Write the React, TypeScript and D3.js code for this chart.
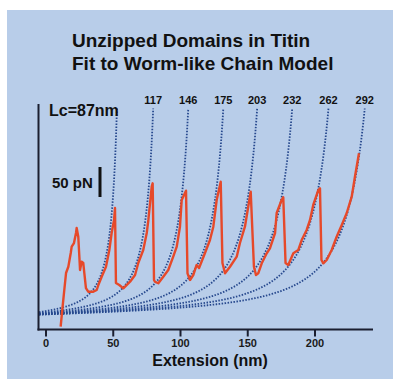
import React from "react";
import * as d3 from "d3";

const titleLines = ["Unzipped Domains in Titin", "Fit to Worm-like Chain Model"];
const xTicks = [0, 50, 100, 150, 200];
const contourLengths = [87, 117, 146, 175, 203, 232, 262, 292];
const xLabel = "Extension (nm)";
const scaleBarLabel = "50 pN";
const scaleBarForce = 50;

// measured trace: extension (nm), force (pN)
const traceExt = [
  10.9, 12.1, 13.6, 14.9, 16.6, 18.4, 19.1, 20.8, 22.3, 22.8, 24.0, 24.8, 25.3, 26.5, 27.7, 28.5, 29.7,
  31.4, 35.2, 37.7, 38.9, 41.4, 44.6, 47.1, 48.8, 50.6, 51.3, 52.0, 54.5, 57.5, 62.5, 66.2, 68.6, 72.3,
  74.9, 76.1, 78.6, 79.3, 80.3, 81.0, 83.5, 87.2, 90.9, 94.6, 97.2, 99.6, 100.9, 104.1, 105.2, 107.1,
  109.5, 112.0, 113.8, 118.2, 121.9, 124.4, 126.9, 129.9, 131.2, 133.1, 136.8, 141.8, 144.2, 147.9,
  152.2, 154.6, 156.1, 157.8, 160.4, 164.1, 166.5, 170.3, 171.5, 175.2, 176.4, 178.1, 180.1, 183.9,
  187.6, 190.1, 193.8, 196.3, 198.7, 202.5, 203.7, 204.8, 206.2, 208.7, 212.4, 216.1, 219.9, 223.6,
  227.3, 229.7, 232.7,
];
const traceForce = [
  -18.7, 9.2, 42.5, 70.8, 81.3, 104.2, 114.7, 120.8, 137.5, 145.8, 131.3, 98, 75.8, 89.7, 87.5, 70.8, 45.8,
  39.7, 39.7, 42.5, 50.8, 64.7, 81.3, 109.2, 137.5, 159.2, 179.2, 54.2, 50.8, 45.3, 56.3, 67.5, 87.5, 109.2,
  137.5, 159.2, 214.7, 220.3, 59.2, 56.3, 53.7, 64.7, 75.8, 98, 114.7, 148, 192.5, 208, 70.3, 59.2,
  67.5, 84.2, 79.2, 104.2, 125.8, 148, 192.5, 223, 87.5, 70.3, 81.3, 98, 120.8, 148,
  206.3, 81.3, 67.5, 70.3, 87, 103.7, 112, 137.5, 170.8, 192.5, 197, 87.5, 84.2, 103.7,
  109.2, 125.8, 142.5, 159.2, 184.2, 209.2, 212, 92.5, 87, 92.5, 109.2, 131.3, 150.8, 170.8,
  198, 231.3, 270.3,
];

// WLC model parameters (fit)
const wlcForceScale = 13.77; // kT/p, pN
const wlcOffset = 25.46; // nm
const wlcMaxForce = 345; // pN, where curves are cut

const W = 393;
const H = 379;

function wlc(f: number) {
  return wlcForceScale * (1 / (4 * (1 - f) * (1 - f)) - 0.25 + f);
}
function solveF(F: number) {
  let lo = 0, hi = 0.9999;
  for (let i = 0; i < 60; i++) {
    const m = (lo + hi) / 2;
    if (wlc(m) < F) lo = m; else hi = m;
  }
  return lo;
}

export default function App() {
  const x = d3.scaleLinear().domain([0, 200]).range([46, 315]);
  const y = d3.scaleLinear().domain([0, 50]).range([315.5, 285.5]);
  const axisY = 329.5;
  const axisX = 38.5;
  const xStartExt = x.invert(39);

  const line = d3
    .line<[number, number]>()
    .x((d) => x(d[0]))
    .y((d) => y(d[1]));

  const trace: [number, number][] = traceExt.map((e, i) => [e, traceForce[i]]);

  const curves = contourLengths.map((Lc) => {
    const fTop = solveF(wlcMaxForce);
    const fStart = (xStartExt + wlcOffset) / Lc;
    const pts: [number, number][] = [];
    const n = 400;
    for (let i = 0; i <= n; i++) {
      const f = fStart + ((fTop - fStart) * i) / n;
      pts.push([f * Lc - wlcOffset, wlc(f)]);
    }
    return { Lc, pts, top: pts[pts.length - 1] };
  });

  const font = "'Liberation Sans', Arial, Helvetica, sans-serif";
  const dark = "#1b1f30";

  return (
    <svg
      width={W}
      height={H}
      style={{ position: "absolute", left: 0, top: 0, background: "#fff" }}
      fontFamily={font}
    >
      <rect x={7} y={10} width={W - 7} height={H - 10} fill="#b8cde9" />
      {titleLines.map((t, i) => (
        <text
          key={t}
          x={72}
          y={47 + i * 22.5}
          fontSize={19}
          fontWeight="bold"
          fill="#111"
        >
          {t}
        </text>
      ))}

      {/* WLC fits */}
      {curves.map((c) => (
        <path
          key={c.Lc}
          d={line(c.pts) || ""}
          fill="none"
          stroke="#27498e"
          strokeWidth={1.8}
          strokeDasharray="1.5 1.5"
        />
      ))}

      {/* trace */}
      <path
        d={line(trace) || ""}
        fill="none"
        stroke="#e6492a"
        strokeWidth={2.4}
        strokeLinejoin="round"
      />

      {/* axes */}
      <line x1={axisX} x2={axisX} y1={104} y2={axisY + 1} stroke={dark} strokeWidth={2} />
      <line x1={axisX - 1} x2={373} y1={axisY} y2={axisY} stroke={dark} strokeWidth={2} />
      {xTicks.map((t) => (
        <g key={t}>
          <line x1={x(t)} x2={x(t)} y1={axisY} y2={axisY + 7} stroke={dark} strokeWidth={2} />
          <text
            x={x(t)}
            y={347}
            textAnchor="middle"
            fontSize={11}
            fontWeight="bold"
            fill="#1a1a1a"
          >
            {t}
          </text>
        </g>
      ))}
      <text x={210} y={366} textAnchor="middle" fontSize={16} fontWeight="bold" fill="#111">
        {xLabel}
      </text>

      {/* scale bar */}
      <line
        x1={100}
        x2={100}
        y1={167}
        y2={167 + (y(0) - y(scaleBarForce))}
        stroke="#111"
        strokeWidth={3}
      />
      <text x={52} y={188} fontSize={15} fontWeight="bold" fill="#111">
        {scaleBarLabel}
      </text>

      {/* contour length labels */}
      {curves.map((c, i) =>
        i === 0 ? (
          <text key={c.Lc} x={49} y={116} fontSize={16} fontWeight="bold" fill="#111">
            {`Lc=${c.Lc}nm`}
          </text>
        ) : (
          <text
            key={c.Lc}
            x={x(c.top[0])}
            y={104}
            textAnchor="middle"
            fontSize={11}
            fontWeight="bold"
            fill="#111"
          >
            {c.Lc}
          </text>
        )
      )}
    </svg>
  );
}
